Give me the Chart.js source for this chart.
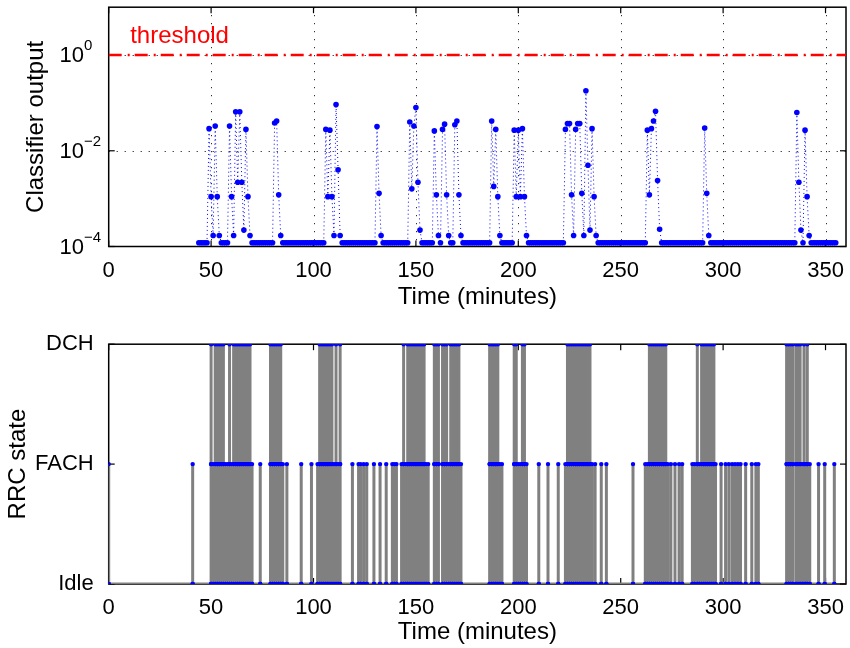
<!DOCTYPE html>
<html><head><meta charset="utf-8">
<script src="https://cdn.jsdelivr.net/npm/chart.js@4.4.1/dist/chart.umd.min.js"></script>
<style>
html,body{margin:0;padding:0;background:#fff;}
#wrap{position:relative;width:850px;height:648px;overflow:hidden;}
canvas{position:absolute;left:0;}
</style></head><body>
<div id="wrap">
<canvas id="topc" width="850" height="324" style="top:0"></canvas>
<canvas id="botc" width="850" height="324" style="top:324px"></canvas>
</div>
<script>
// ---------------- data ----------------
const B = 1.2e-4; // classifier baseline output
const topMinutes = [
 44,45,46,47,48,49,50,51,52,53,
 54,55,56,57,58,59,60,61,62,63,
 64,65,66,67,68,69,70,71,72,73,
 74,75,76,77,78,79,80,81,82,83,
 84,85,86,87,88,89,90,91,92,93,
 94,95,96,97,98,99,100,101,102,103,
 104,105,106,107,108,109,110,111,112,113,
 114,115,116,117,118,119,120,121,122,123,
 124,125,126,127,128,129,130,131,132,133,
 134,135,136,137,138,139,140,141,142,143,
 144,145,146,147,148,149,150,151,152,153,
 154,155,156,157,158,159,160,161,162,163,
 164,165,166,167,168,169,170,171,172,173,
 174,175,176,177,178,179,180,181,182,183,
 184,185,186,187,188,189,190,191,192,193,
 194,195,196,197,198,199,200,201,202,203,
 204,205,206,207,208,209,210,211,212,213,
 214,215,216,217,218,219,220,221,222,223,
 224,225,226,227,228,229,230,231,232,233,
 234,235,236,237,238,239,240,241,242,243,
 244,245,246,247,248,249,250,251,252,253,
 254,255,256,257,258,259,260,261,262,263,
 264,265,266,267,268,269,270,271,272,273,
 274,275,276,277,278,279,280,281,282,283,
 284,285,286,287,288,289,290,291,292,293,
 294,295,296,297,298,299,300,301,302,303,
 304,305,306,307,308,309,310,311,312,313,
 314,315,316,317,318,319,320,321,322,323,
 324,325,326,327,328,329,330,331,332,333,
 334,335,336,337,338,339,340,341,342,343,
 344,345,346,347,348,349,350,351,352,353,
 354,355];
const topValues = [
 B,B,B,B,B,0.029,1.1e-3,1.7e-4,0.033,1.1e-3,
 1.7e-4,B,B,B,B,0.033,1.1e-3,1.7e-4,0.065,2.2e-3,
 0.065,2.2e-3,2.2e-4,0.028,1.1e-3,1.7e-4,B,B,B,B,
 B,B,B,B,B,B,B,0.038,0.042,1.2e-3,
 1.7e-4,B,B,B,B,B,B,B,B,B,
 B,B,B,B,B,B,B,B,B,B,
 B,B,0.028,1.1e-3,0.027,1.1e-3,1.7e-4,0.093,4e-3,1.7e-4,
 B,B,B,B,B,B,B,B,B,B,
 B,B,B,B,B,B,B,0.032,1.3e-3,1.7e-4,
 B,B,B,B,B,B,B,B,B,B,
 B,B,B,0.04,1.6e-3,0.033,0.08,2.2e-3,2.2e-4,B,
 B,B,B,B,B,0.026,1.2e-3,1.7e-4,B,0.028,
 0.036,1.2e-3,1.7e-4,B,B,0.035,0.042,1.2e-3,1.7e-4,B,
 B,B,B,B,B,B,B,B,B,B,
 B,B,B,0.042,1.8e-3,0.028,1.1e-3,1.7e-4,B,B,
 B,B,B,B,0.027,1.1e-3,0.027,1.1e-3,0.029,1.1e-3,
 1.7e-4,B,B,B,B,B,B,B,B,B,
 B,B,B,B,B,B,B,B,B,0.028,
 0.037,0.037,1.2e-3,1.7e-4,0.028,0.037,0.037,1.3e-3,1.7e-4,0.18,
 5e-3,2.2e-4,0.029,1.1e-3,1.7e-4,B,B,B,B,B,
 B,B,B,B,B,B,B,B,B,B,
 B,B,B,B,B,B,B,B,B,0.027,
 1.2e-3,0.029,0.042,0.067,2.4e-3,2.3e-4,B,B,B,B,
 B,B,B,B,B,B,B,B,B,B,
 B,B,B,B,B,B,B,0.03,1.3e-3,1.7e-4,
 B,B,B,B,B,B,B,B,B,B,
 B,B,B,B,B,B,B,B,B,B,
 B,B,B,B,B,B,B,B,B,B,
 B,B,B,B,B,B,B,B,B,B,
 B,B,0.063,2.2e-3,2.2e-4,B,0.027,1.1e-3,1.7e-4,B,
 B,B,B,B,B,B,B,B,B,B,
 B,B];
const threshold = 1;
const xTickValues = [0,50,100,150,200,250,300,350];
const logTickExponents = [-4,-2,0];
const rrcLabels = ['Idle','FACH','DCH'];
// RRC activity: time (min) and the highest state reached at that time (0 Idle, 1 FACH, 2 DCH)
const rrcTimes = [
 0, 41,
 50,51,52,53,54,55,56,57,58,59,60,61,62,63,64,65,66,67,68,69,70,
 74,
 79,80,81,82,83,84,85,
 87,94,99,
 102,103,104,105,106,107,108,109,110,111,112,113,
 119,122,123,124.5,126,129.5,132.5,135.5,138.5,139.5,140.5,143,
 144,145,146,147,148,149,150,151,152,153,154,155,156,
 159,160,161,
 163,164,165,166,167,168,169,170,171,172,
 186,187,188,189,190,191,192,
 198,199,200,201,202,203,204,
 210,214.5,219.5,
 223,224,225,226,227,228,229,230,231,232,233,234,235,236,
 237.5,240.5,243,
 256,
 262,263,264,265,266,267,268,269,270,271,272,273,274.5,276.5,278.5,280,
 285,286,287.4,288.4,289.5,290.5,291.5,292.5,293.5,294.5,295.5,296.3,
 299,301.2,302.8,304.4,305.8,307.2,308.5,311,314,316,317.2,
 331,332,333,334,335.6,336.6,337.6,338.6,339.5,340.3,341.1,342.3,
 346.6,349.6,354.3];
const rrcPeaks = [
 1, 1,
 2,1,2,2,2,2,2,1,1,2,1,2,2,2,2,2,2,2,2,2,1,
 1,
 2,2,2,2,2,2,1,
 1,1,1,
 1,2,2,2,2,2,2,2,1,2,1,2,
 1,1,1,1,1,1,1,1,1,1,1,1,
 2,1,2,2,2,2,2,2,2,2,2,1,1,
 2,2,2,
 2,2,2,1,2,2,2,2,2,1,
 2,2,2,2,2,1,1,
 2,2,1,1,2,2,1,
 1,1,1,
 1,2,2,2,2,2,2,2,2,2,2,2,2,1,
 1,1,1,
 1,
 1,1,2,2,2,2,2,2,2,2,2,1,1,1,1,1,
 1,1,2,1,2,2,2,2,2,2,2,1,
 1,1,1,1,1,1,1,1,1,1,1,
 2,2,2,2,2,2,2,1,2,1,2,1,
 1,1,1];

// ---------------- build library data ----------------
const topPoints = topMinutes.map((t, i) => ({x: t, y: topValues[i]}));
const rrcPath = [];
rrcTimes.forEach((t, i) => {
  const p = rrcPeaks[i];
  rrcPath.push({x: t, y: 0});
  for (let s = 1; s <= p; s++) rrcPath.push({x: t, y: s});
  for (let s = p - 1; s >= 0; s--) rrcPath.push({x: t, y: s});
});

const FONT = "'Liberation Sans', Arial, Helvetica, sans-serif";
Chart.defaults.font.family = FONT;
Chart.defaults.color = '#000';

function line(ctx, x1, y1, x2, y2) { ctx.beginPath(); ctx.moveTo(x1, y1); ctx.lineTo(x2, y2); ctx.stroke(); }

const framePlugin = {
  id: 'frame',
  beforeDatasetsDraw(chart, args, opts) {
    const {ctx, chartArea: a, scales: {x: xs, y: ys}} = chart;
    ctx.save();
    ctx.strokeStyle = '#000';
    if (opts.grid) {
      ctx.lineWidth = 1;
      ctx.setLineDash([1, 7]);
      xs.ticks.forEach(t => {
        const px = Math.round(xs.getPixelForValue(t.value)) + 0.5;
        if (px < a.left + 2 || px > a.right - 2) return;
        line(ctx, px, a.top, px, a.bottom);
      });
      ys.ticks.forEach(t => {
        const py = Math.round(ys.getPixelForValue(t.value)) + 0.5;
        if (py < a.top + 2 || py > a.bottom - 2) return;
        line(ctx, a.left, py, a.right, py);
      });
      ctx.setLineDash([]);
    }
    ctx.lineWidth = 1.5;
    ctx.strokeRect(a.left, a.top, a.right - a.left, a.bottom - a.top);
    const L = 6;
    ctx.lineWidth = 1.2;
    xs.ticks.forEach(t => {
      const px = xs.getPixelForValue(t.value);
      line(ctx, px, a.bottom, px, a.bottom - L);
      line(ctx, px, a.top, px, a.top + L);
    });
    ys.ticks.forEach(t => {
      const py = ys.getPixelForValue(t.value);
      line(ctx, a.left, py, a.left + L, py);
      line(ctx, a.right, py, a.right - L, py);
    });
    ctx.restore();
  },
  afterDraw(chart, args, opts) {
    if (!opts.logLabels) return;
    const {ctx, chartArea: a, scales: {x: xs, y: ys}} = chart;
    ctx.save();
    ctx.fillStyle = '#000';
    logTickExponents.forEach(e => {
      const py = ys.getPixelForValue(Math.pow(10, e));
      ctx.font = '22px ' + FONT;
      ctx.textAlign = 'right';
      ctx.textBaseline = 'middle';
      ctx.fillText('10', 84, py + 1);
      ctx.font = '15px ' + FONT;
      ctx.textAlign = 'left';
      ctx.fillText(e < 0 ? '\u2212' + (-e) : String(e), 84, py - 9);
    });
    ctx.fillStyle = '#ff0000';
    ctx.font = '24px ' + FONT;
    ctx.textAlign = 'left';
    ctx.textBaseline = 'alphabetic';
    ctx.fillText('threshold', xs.getPixelForValue(10.5), 43);
    ctx.restore();
  }
};

const xScale = (titlePad, h) => ({
  type: 'linear', min: 0, max: 360,
  afterBuildTicks: s => { s.ticks = xTickValues.map(v => ({value: v})); },
  afterFit: s => { s.height = h; },
  grid: {display: false}, border: {display: false},
  ticks: {font: {size: 22}, color: '#000', padding: 3, maxRotation: 0, autoSkip: false},
  title: {display: true, text: 'Time (minutes)', color: '#000', font: {size: 24, lineHeight: 1}, padding: {top: 0, bottom: titlePad}}
});

new Chart(document.getElementById('topc'), {
  type: 'line',
  data: {datasets: [
    {data: topPoints, showLine: true, borderColor: '#0000ff', borderWidth: 1, borderDash: [1, 3],
     pointRadius: 2.8, pointBackgroundColor: '#0000ff', pointBorderWidth: 0, tension: 0},
    {data: [{x: 0, y: threshold}, {x: 360, y: threshold}], borderColor: '#ff0000', borderWidth: 2.5,
     borderDash: [13, 6, 2, 5], pointRadius: 0}
  ]},
  options: {
    responsive: false, animation: false, devicePixelRatio: 1,
    layout: {padding: {top: 7.2, right: 2, left: 0, bottom: 0}},
    plugins: {legend: {display: false}, tooltip: {enabled: false}, frame: {grid: true, logLabels: true}},
    scales: {
      x: xScale(15, 77.5),
      y: {
        type: 'logarithmic', min: 1e-4, max: 10,
        afterBuildTicks: s => { s.ticks = logTickExponents.map(e => ({value: Math.pow(10, e)})); },
        afterFit: s => { s.width = 108.7; },
        grid: {display: false}, border: {display: false},
        ticks: {callback: () => '', padding: 0},
        title: {display: true, text: 'Classifier output', color: '#000', font: {size: 24, lineHeight: 1}, padding: {top: 24, bottom: 0}}
      }
    }
  },
  plugins: [framePlugin]
});

new Chart(document.getElementById('botc'), {
  type: 'line',
  data: {datasets: [
    {data: rrcPath, showLine: true, borderColor: '#808080', borderWidth: 3, tension: 0,
     pointRadius: 2.2, pointBackgroundColor: '#0000ff', pointBorderWidth: 0}
  ]},
  options: {
    responsive: false, animation: false, devicePixelRatio: 1,
    layout: {padding: {top: 19.3, right: 2, left: 0, bottom: 0}},
    plugins: {legend: {display: false}, tooltip: {enabled: false}, frame: {grid: false, logLabels: false}},
    scales: {
      x: xScale(4, 64),
      y: {
        type: 'linear', min: 0, max: 2,
        afterBuildTicks: s => { s.ticks = rrcLabels.map((_, i) => ({value: i})); },
        afterFit: s => { s.width = 108.7; },
        grid: {display: false}, border: {display: false},
        ticks: {callback: v => rrcLabels[v], font: {size: 22}, color: '#000', padding: 7},
        title: {display: true, text: 'RRC state', color: '#000', font: {size: 24, lineHeight: 1}, padding: {top: 6, bottom: 0}}
      }
    }
  },
  plugins: [framePlugin]
});
</script>
</body></html>
